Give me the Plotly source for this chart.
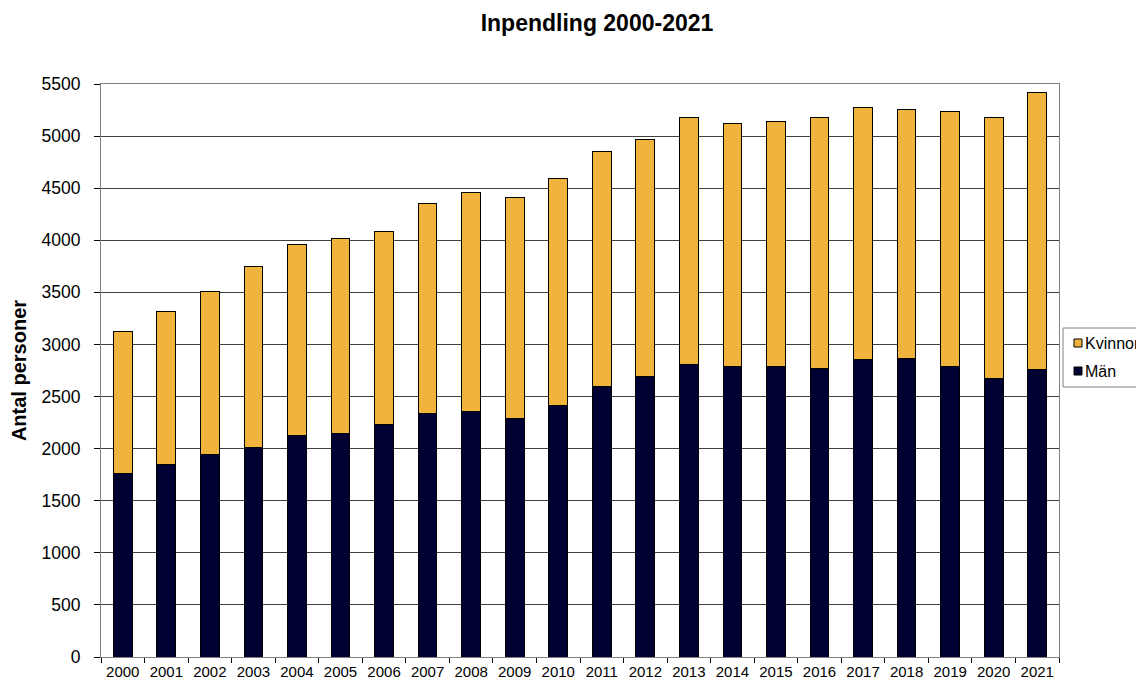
import plotly.graph_objects as go

years = [str(y) for y in range(2000, 2022)]
totals = [3122, 3318, 3510, 3744, 3964, 4015, 4089, 4351, 4457, 4412, 4591,
          4854, 4966, 5180, 5122, 5139, 5180, 5279, 5260, 5234, 5180, 5414]
man = [1763, 1852, 1948, 2012, 2128, 2144, 2233, 2336, 2352, 2291, 2416,
       2595, 2694, 2812, 2784, 2784, 2774, 2851, 2870, 2790, 2672, 2755]
kvinnor = [t - m for t, m in zip(totals, man)]

FONT = "Liberation Sans, Arial, sans-serif"
C_K = "#F0B43C"
C_M = "#000033"

W, H = 1144, 681
L, R, T, B = 93, 93, 76, 32  # page has an 8px body offset
PW = W - L - R
PH = H - T - B


def px(x):
    return (x - L) / PW


def py(y):
    return (H - B - y) / PH


fig = go.Figure()
fig.add_trace(go.Bar(x=years, y=man, name="Män",
                     marker=dict(color=C_M, line=dict(color="#000000", width=1)),
                     width=0.43))
fig.add_trace(go.Bar(x=years, y=kvinnor, name="Kvinnor",
                     marker=dict(color=C_K, line=dict(color="#000000", width=1)),
                     width=0.43))

shapes = [
    # legend frame
    dict(type="rect", xref="paper", yref="paper", x0=px(1055), x1=px(1170),
         y0=py(379), y1=py(320), line=dict(color="#808080", width=1),
         fillcolor="white", layer="above"),
    dict(type="rect", xref="paper", yref="paper", x0=px(1066), x1=px(1074),
         y0=py(339), y1=py(331), line=dict(color="#000000", width=1),
         fillcolor=C_K, layer="above"),
    dict(type="rect", xref="paper", yref="paper", x0=px(1066), x1=px(1074),
         y0=py(367), y1=py(359), line=dict(color="#000000", width=1),
         fillcolor=C_M, layer="above"),
]
annotations = [
    dict(text="Kvinnor", xref="paper", yref="paper", x=px(1075), y=py(335),
         xanchor="left", yanchor="middle", showarrow=False,
         font=dict(size=16, family=FONT, color="#000000")),
    dict(text="Män", xref="paper", yref="paper", x=px(1075), y=py(363),
         xanchor="left", yanchor="middle", showarrow=False,
         font=dict(size=16, family=FONT, color="#000000")),
]

fig.update_layout(
    width=W, height=H,
    barmode="stack",
    paper_bgcolor="white", plot_bgcolor="white",
    margin=dict(l=L, r=R, t=T, b=B, autoexpand=False),
    font=dict(family=FONT, color="#000000"),
    title=dict(text="<b>Inpendling 2000-2021</b>", x=589 / W, xanchor="center",
               y=1 - 15 / H, yanchor="middle", font=dict(size=23, family=FONT)),
    showlegend=False,
    shapes=shapes,
    annotations=annotations,
)
fig.update_xaxes(type="category", showline=True, linecolor="#808080", linewidth=1,
                 mirror=True, ticks="outside", tickson="boundaries", ticklen=5,
                 tickcolor="#000000", tickfont=dict(size=15, family=FONT),
                 tickangle=0, ticklabelstandoff=1, showgrid=False)
fig.update_yaxes(range=[0, 5500], dtick=500, showline=True, linecolor="#808080",
                 linewidth=1, mirror=True, ticks="outside", ticklen=6,
                 tickcolor="#000000", tickfont=dict(size=17.5, family=FONT),
                 ticklabelstandoff=10,
                 showgrid=True, gridcolor="#404040", gridwidth=1,
                 title=dict(text="<b>Antal personer</b>", font=dict(size=20, family=FONT),
                            standoff=12))

fig.write_html("out.html")
